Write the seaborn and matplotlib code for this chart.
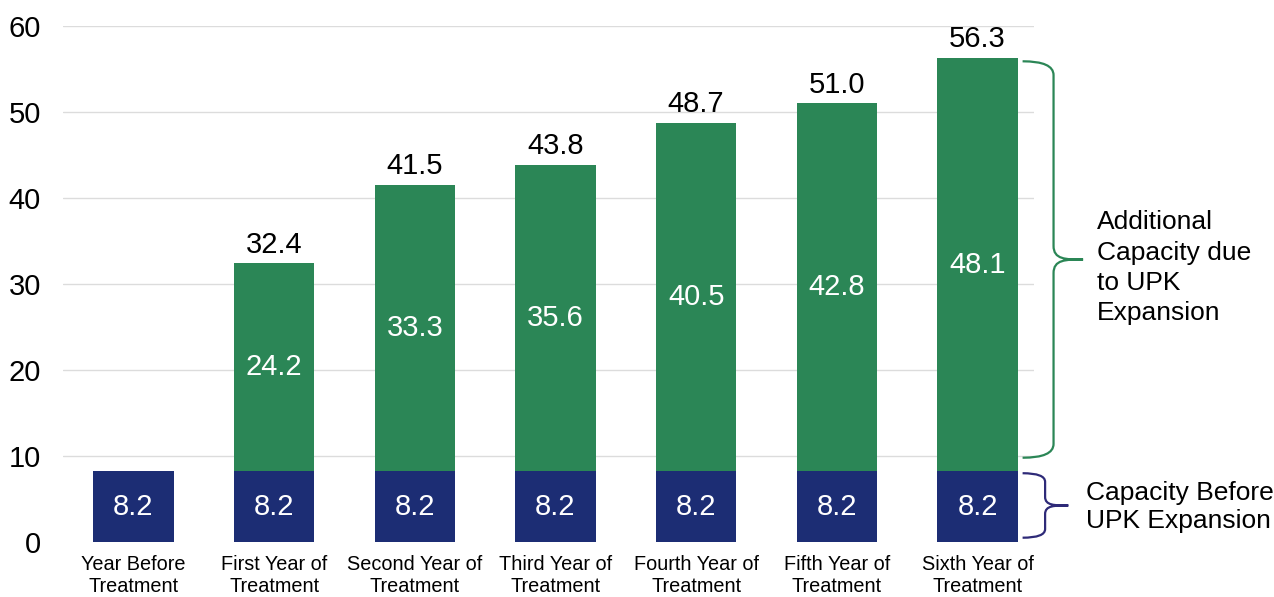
import matplotlib
matplotlib.use("Agg")
import matplotlib.pyplot as plt
from matplotlib.path import Path
from matplotlib.patches import PathPatch
import seaborn as sns
import pandas as pd

categories = [
    "Year Before\nTreatment",
    "First Year of\nTreatment",
    "Second Year of\nTreatment",
    "Third Year of\nTreatment",
    "Fourth Year of\nTreatment",
    "Fifth Year of\nTreatment",
    "Sixth Year of\nTreatment",
]
base_capacity = [8.2, 8.2, 8.2, 8.2, 8.2, 8.2, 8.2]
added_capacity = [0.0, 24.2, 33.3, 35.6, 40.5, 42.8, 48.1]
total_capacity = [8.2, 32.4, 41.5, 43.8, 48.7, 51.0, 56.3]
y_ticks = [0, 10, 20, 30, 40, 50, 60]

GREEN = "#2B8656"
NAVY = "#1C2D74"
BRACE_NAVY = "#2E2A78"

sns.set_theme(style="white")
plt.rcParams["font.family"] = ["Liberation Sans", "DejaVu Sans"]

df = pd.DataFrame({
    "category": categories,
    "base": base_capacity,
    "added": added_capacity,
    "total": total_capacity,
})

fig = plt.figure(figsize=(12.74, 5.97), dpi=100)
ax = fig.add_axes([0.0495, 0.0921, 0.762, 0.8643])

# stacked bars: full height in green, base capacity in navy on top of it
sns.barplot(data=df, x="category", y="total", color=GREEN, saturation=1,
            width=0.57, ax=ax, zorder=2)
sns.barplot(data=df, x="category", y="base", color=NAVY, saturation=1,
            width=0.57, ax=ax, zorder=3)
for p in ax.patches:
    p.set_edgecolor("none")

ax.set_xlim(-0.5, 6.4)
ax.set_ylim(0, 60)
ax.set_yticks(y_ticks)
ax.set_xlabel("")
ax.set_ylabel("")
ax.yaxis.grid(True, color="#dcdcdc", linewidth=1.0, zorder=0)
ax.set_axisbelow(True)
ax.get_ygridlines()[0].set_visible(False)
for s in ax.spines.values():
    s.set_visible(False)
ax.tick_params(axis="y", length=0, pad=16, labelsize=21, labelcolor="black")
ax.tick_params(axis="x", length=0, pad=9, labelsize=14.3, labelcolor="black")
for lbl in ax.get_xticklabels():
    lbl.set_linespacing(1.22)

# value labels
for i, (b, a, t) in enumerate(zip(base_capacity, added_capacity, total_capacity)):
    ax.text(i, b / 2, f"{b:.1f}", ha="center", va="center", color="white",
            fontsize=21, zorder=4)
    if a > 0:
        ax.text(i, b + a / 2, f"{a:.1f}", ha="center", va="center",
                color="white", fontsize=21, zorder=4)
        ax.annotate(f"{t:.1f}", xy=(i, t), xytext=(0, 3.5),
                    textcoords="offset points", ha="center", va="bottom",
                    color="black", fontsize=21)


def brace(ax, x0, x1, xtip, ybot, ytop, ry, color):
    """Curly brace opening to the left, its tip pointing right at mid-height."""
    ym = (ybot + ytop) / 2
    xc = xtip - (xtip - x1) * 0.6
    verts = [
        (x0, ytop), (x1, ytop), (x1, ytop - ry),
        (x1, ym + ry),
        (x1, ym), (xc, ym), (xtip, ym),
        (xtip, ym), (xc, ym), (x1, ym), (x1, ym - ry),
        (x1, ybot + ry),
        (x1, ybot), (x0, ybot),
    ]
    codes = [
        Path.MOVETO, Path.CURVE3, Path.CURVE3,
        Path.LINETO,
        Path.CURVE4, Path.CURVE4, Path.CURVE4,
        Path.MOVETO, Path.CURVE4, Path.CURVE4, Path.CURVE4,
        Path.LINETO,
        Path.CURVE3, Path.CURVE3,
    ]
    patch = PathPatch(Path(verts, codes), facecolor="none", edgecolor=color,
                      linewidth=1.6, clip_on=False, zorder=5)
    ax.add_patch(patch)


brace(ax, 6.32, 6.54, 6.75, 9.8, 55.9, 1.6, GREEN)
brace(ax, 6.32, 6.48, 6.645, 0.5, 8.0, 1.0, BRACE_NAVY)

ax.text(6.85, 31.9, "Additional\nCapacity due\nto UPK\nExpansion",
        ha="left", va="center", fontsize=19, color="black",
        linespacing=1.33, clip_on=False)
ax.text(6.77, 4.1, "Capacity Before\nUPK Expansion", ha="left", va="center",
        fontsize=19, color="black", linespacing=1.22, clip_on=False)

fig.savefig("out.png", dpi=100)
